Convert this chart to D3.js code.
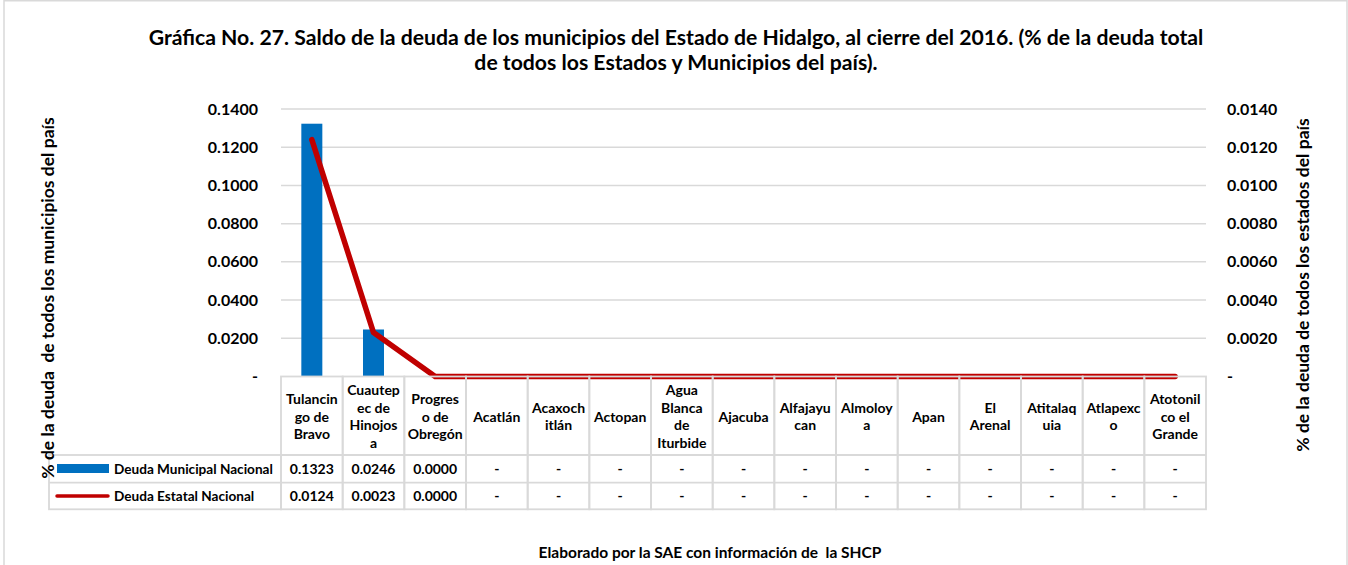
<!DOCTYPE html>
<meta charset="utf-8">
<style>
body { margin: 0; background: #fff; }
svg text { font-family: Lato, "Open Sans", sans-serif; font-weight: bold; fill: #000; white-space: pre; }
.grid line { stroke: #d9d9d9; stroke-width: 1.5px; }
.cell { stroke: #d9d9d9; stroke-width: 1.8px; fill: none; }
</style>
<body>
<svg id="chart"></svg>
<script src="https://d3js.org/d3.v7.min.js"></script>
<script>

// municipios (header labels keep the chart's own line breaks)
var municipios = ["Tulancingo de Bravo", "Cuautepec de Hinojosa", "Progreso de Obregón", "Acatlán",
  "Acaxochitlán", "Actopan", "Agua Blanca de Iturbide", "Ajacuba", "Alfajayucan", "Almoloya",
  "Apan", "El Arenal", "Atitalaquia", "Atlapexco", "Atotonilco el Grande"];
var headerLabels = ["Tulancin|go de|Bravo", "Cuautep|ec de|Hinojos|a", "Progres|o de|Obregón", "Acatlán",
  "Acaxoch|itlán", "Actopan", "Agua|Blanca|de|Iturbide", "Ajacuba", "Alfajayu|can", "Almoloy|a",
  "Apan", "El|Arenal", "Atitalaq|uia", "Atlapexc|o", "Atotonil|co el|Grande"];

// % de la deuda
var deudaMunicipal = [0.1323, 0.0246, 0.00001, 0, 0, 0, 0, 0, 0, 0, 0, 0, 0, 0, 0];
var deudaEstatal   = [0.0124, 0.0023, 0.000001, 0, 0, 0, 0, 0, 0, 0, 0, 0, 0, 0, 0];

var leftTicks  = [0, 0.02, 0.04, 0.06, 0.08, 0.10, 0.12, 0.14];
var rightTicks = [0, 0.002, 0.004, 0.006, 0.008, 0.010, 0.012, 0.014];

var W = 1348, H = 565;
var svg = d3.select("#chart").attr("width", W).attr("height", H);

// outer frame
svg.append("rect")
    .attr("x", 4).attr("y", 0.75).attr("width", W - 5).attr("height", H + 10)
    .attr("fill", "none").attr("stroke", "#d9d9d9").attr("stroke-width", 1.5);

var x = d3.scaleBand().domain(municipios).range([281, 1206]);
var y = d3.scaleLinear().domain([0, 0.14]).range([376.5, 109]);
var y2 = d3.scaleLinear().domain([0, 0.014]).range([376.5, 109]);

var fmt = function(v) { return v === 0 ? "-" : d3.format(".4f")(v); };

// gridlines
svg.append("g").attr("class", "grid")
  .selectAll("line")
  .data(leftTicks.slice(1))
  .enter().append("line")
    .attr("x1", 281).attr("x2", 1206)
    .attr("y1", function(d) { return y(d); })
    .attr("y2", function(d) { return y(d); });

// left axis
var gl = svg.append("g")
    .attr("transform", "translate(258,0)")
    .call(d3.axisLeft(y).tickValues(leftTicks).tickSize(0).tickPadding(0).tickFormat(fmt));
gl.select(".domain").remove();
gl.attr("font-family", null).attr("font-size", null);
gl.selectAll("text").style("font-size", "16px");

// right axis
var gr = svg.append("g")
    .attr("transform", "translate(1227,0)")
    .call(d3.axisRight(y2).tickValues(rightTicks).tickSize(0).tickPadding(0).tickFormat(fmt));
gr.select(".domain").remove();
gr.attr("font-family", null).attr("font-size", null);
gr.selectAll("text").style("font-size", "16px");

// bars
var bw = 21;
svg.selectAll(".bar")
    .data(deudaMunicipal)
  .enter().append("rect")
    .attr("class", "bar")
    .attr("x", function(d, i) { return x(municipios[i]) + x.bandwidth() / 2 - bw / 2; })
    .attr("y", function(d) { return y(d); })
    .attr("width", bw)
    .attr("height", function(d) { return y(0) - y(d); })
    .attr("fill", "#0070c0");

// line (right axis)
var line = d3.line()
    .x(function(d, i) { return x(municipios[i]) + x.bandwidth() / 2; })
    .y(function(d) { return y2(d); });

svg.append("path")
    .datum(deudaEstatal)
    .attr("d", line)
    .attr("fill", "none")
    .attr("stroke", "#c00000")
    .attr("stroke-width", 5.5)
    .attr("stroke-linejoin", "round")
    .attr("stroke-linecap", "round");

// data table
var rowTop = 376.5, rowHead = 455, row1 = 482.7, row2 = 509.3, legendLeft = 49;
var table = svg.append("g");

municipios.forEach(function(m, i) {
  var x0 = x(m), bwid = x.bandwidth();
  table.append("rect").attr("class", "cell")
      .attr("x", x0).attr("y", rowTop).attr("width", bwid).attr("height", row2 - rowTop);
  table.append("line").attr("class", "cell")
      .attr("x1", x0).attr("x2", x0 + bwid).attr("y1", rowHead).attr("y2", rowHead);
  table.append("line").attr("class", "cell")
      .attr("x1", x0).attr("x2", x0 + bwid).attr("y1", row1).attr("y2", row1);

  var lines = headerLabels[i].split("|");
  var lh = 17.5, cy = (rowTop + rowHead) / 2 + 1;
  var t = table.append("text")
      .attr("text-anchor", "middle")
      .style("font-size", "14px");
  lines.forEach(function(s, k) {
    t.append("tspan")
        .attr("x", x0 + bwid / 2)
        .attr("y", cy + (k - (lines.length - 1) / 2) * lh)
        .attr("dy", "0.35em")
        .text(s);
  });

  table.append("text")
      .attr("x", x0 + bwid / 2).attr("y", (rowHead + row1) / 2).attr("dy", "0.35em")
      .attr("text-anchor", "middle").style("font-size", "14px")
      .text(fmt(deudaMunicipal[i]));
  table.append("text")
      .attr("x", x0 + bwid / 2).attr("y", (row1 + row2) / 2).attr("dy", "0.35em")
      .attr("text-anchor", "middle").style("font-size", "14px")
      .text(fmt(deudaEstatal[i]));
});

// legend column of the table
table.append("rect").attr("class", "cell")
    .attr("x", legendLeft).attr("y", rowHead).attr("width", 281 - legendLeft).attr("height", row2 - rowHead);
table.append("line").attr("class", "cell")
    .attr("x1", legendLeft).attr("x2", 281).attr("y1", row1).attr("y2", row1);

table.append("rect")
    .attr("x", 57).attr("y", 464).attr("width", 52).attr("height", 9)
    .attr("fill", "#0070c0");
table.append("line")
    .attr("x1", 57).attr("x2", 108).attr("y1", 496).attr("y2", 496)
    .attr("stroke", "#c00000").attr("stroke-width", 3.5).attr("stroke-linecap", "round");

table.append("text")
    .attr("x", 114).attr("y", (rowHead + row1) / 2).attr("dy", "0.35em")
    .style("font-size", "13.6px").text("Deuda Municipal Nacional");
table.append("text")
    .attr("x", 114).attr("y", (row1 + row2) / 2).attr("dy", "0.35em")
    .style("font-size", "13.6px").text("Deuda Estatal Nacional");

// axis titles
svg.append("text")
    .attr("transform", "translate(54,298) rotate(-90)")
    .attr("text-anchor", "middle")
    .style("font-size", "17.5px")
    .text("% de la deuda  de todos los municipios del país");

svg.append("text")
    .attr("transform", "translate(1309,285) rotate(-90)")
    .attr("text-anchor", "middle")
    .style("font-size", "17.5px")
    .text("% de la deuda de todos los estados del país");

// title
var title = svg.append("text")
    .attr("text-anchor", "middle")
    .style("font-size", "21.2px");
title.append("tspan").attr("x", 676).attr("y", 45)
    .text("Gráfica No. 27. Saldo de la deuda de los municipios del Estado de Hidalgo, al cierre del 2016. (% de la deuda total");
title.append("tspan").attr("x", 676).attr("y", 70)
    .text("de todos los Estados y Municipios del país).");

// source
svg.append("text")
    .attr("x", 710).attr("y", 558)
    .attr("text-anchor", "middle")
    .style("font-size", "15.5px")
    .text("Elaborado por la SAE con información de  la SHCP");

</script>
</body>
